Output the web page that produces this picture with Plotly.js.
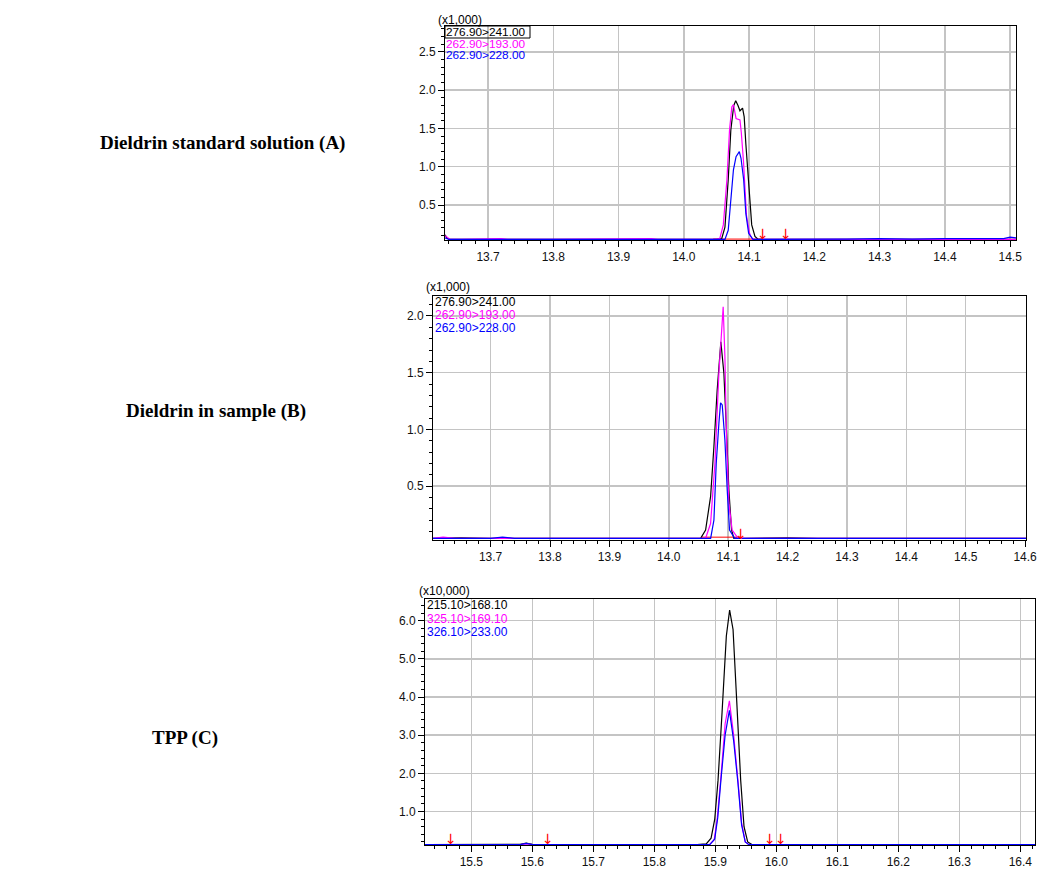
<!DOCTYPE html>
<html>
<head>
<meta charset="utf-8">
<script src="https://cdn.plot.ly/plotly-3.0.1.min.js"></script>
<style>
  html, body { margin: 0; padding: 0; background: #fff; }
  #chart { width: 1040px; height: 870px; }
</style>
</head>
<body>
<div id="chart"></div>
<script>
// ---------------- DATA ----------------
// Panel labels
const panelTitles = ["Dieldrin standard solution (A)", "Dieldrin in sample (B)", "TPP (C)"];
const scaleLabels = ["(x1,000)", "(x1,000)", "(x10,000)"];
const channelsAB = ["276.90>241.00", "262.90>193.00", "262.90>228.00"];
const channelsC = ["215.10>168.10", "325.10>169.10", "326.10>233.00"];

// Tick labels
const xTicksA = [13.7, 13.8, 13.9, 14.0, 14.1, 14.2, 14.3, 14.4, 14.5];
const xTicksB = [13.7, 13.8, 13.9, 14.0, 14.1, 14.2, 14.3, 14.4, 14.5, 14.6];
const xTicksC = [15.5, 15.6, 15.7, 15.8, 15.9, 16.0, 16.1, 16.2, 16.3, 16.4];
const yTicksAB = [0.5, 1.0, 1.5, 2.0, 2.5];
const yTicksC = [1.0, 2.0, 3.0, 4.0, 5.0, 6.0];

// Panel A (x1,000)
const tA_black = [13.634,13.637,13.641,13.66,13.70,13.75,13.80,13.85,13.90,13.95,14.00,14.03,14.050,14.058,14.063,14.068,14.072,14.0765,14.0795,14.083,14.086,14.090,14.0925,14.095,14.099,14.104,14.109,14.114,14.13,14.16,14.20,14.25,14.30,14.35,14.40,14.45,14.509];
const vA_black = [0.11,0.07,0.05,0.05,0.05,0.05,0.05,0.05,0.05,0.05,0.05,0.05,0.05,0.06,0.21,0.83,1.48,1.80,1.86,1.80,1.73,1.765,1.65,1.30,0.83,0.24,0.09,0.05,0.05,0.05,0.05,0.05,0.05,0.05,0.05,0.05,0.05];
const tA_mag = [13.634,13.638,13.642,13.66,13.72,13.73,13.80,13.95,13.96,14.00,14.048,14.055,14.0605,14.066,14.070,14.0735,14.076,14.080,14.086,14.088,14.0915,14.096,14.101,14.105,14.15,14.25,14.35,14.45,14.509];
const vA_mag = [0.10,0.07,0.05,0.05,0.06,0.05,0.05,0.06,0.05,0.05,0.05,0.06,0.24,0.83,1.48,1.78,1.81,1.63,1.61,1.45,1.06,0.36,0.12,0.05,0.05,0.05,0.05,0.05,0.05];
const tA_blue = [13.634,13.64,13.70,13.80,13.90,14.00,14.063,14.068,14.073,14.076,14.080,14.085,14.0876,14.0917,14.095,14.0993,14.106,14.15,14.20,14.25,14.30,14.35,14.40,14.45,14.49,14.50,14.509];
const vA_blue = [0.07,0.05,0.05,0.05,0.05,0.05,0.05,0.17,0.61,0.96,1.13,1.196,1.11,0.83,0.39,0.13,0.05,0.05,0.05,0.055,0.06,0.055,0.06,0.055,0.06,0.08,0.07];
const tA_redBase = [14.045, 14.122];
const vA_redBase = [0.055, 0.055];
const tA_arrows = [14.122, 14.157];

// Panel B (x1,000)
const tB_black = [13.603,13.65,13.70,13.75,13.80,13.85,13.90,13.95,14.00,14.04,14.0536,14.062,14.0704,14.076,14.0815,14.0877,14.0928,14.0966,14.1012,14.1057,14.1096,14.13,14.20,14.25,14.30,14.40,14.50,14.6015];
const vB_black = [0.04,0.045,0.04,0.04,0.04,0.045,0.04,0.04,0.04,0.04,0.04,0.113,0.407,0.847,1.347,1.773,1.495,1.054,0.466,0.113,0.04,0.04,0.045,0.04,0.04,0.04,0.04,0.04];
const tB_mag = [13.603,13.62,13.64,13.70,13.80,13.90,14.00,14.062,14.0704,14.0777,14.0844,14.0916,14.0945,14.0973,14.1012,14.1067,14.1168,14.20,14.30,14.40,14.50,14.6015];
const vB_mag = [0.04,0.05,0.04,0.04,0.04,0.04,0.04,0.04,0.17,0.70,1.495,2.08,1.64,0.906,0.35,0.113,0.04,0.04,0.04,0.04,0.04,0.04];
const tB_blue = [13.603,13.70,13.72,13.74,13.80,13.90,14.00,14.0705,14.076,14.0799,14.0844,14.0872,14.09,14.0945,14.0984,14.1023,14.111,14.20,14.30,14.40,14.50,14.6015];
const vB_blue = [0.04,0.04,0.05,0.04,0.04,0.04,0.04,0.04,0.20,0.70,1.054,1.235,1.215,0.906,0.466,0.113,0.04,0.04,0.04,0.04,0.04,0.04];
const tB_redBase = [14.055, 14.122];
const vB_redBase = [0.05, 0.05];
const tB_arrows = [14.121];

// Panel C (x10,000)
const tC_black = [15.424,15.45,15.50,15.55,15.58,15.59,15.60,15.62,15.70,15.80,15.87,15.885,15.893,15.899,15.9044,15.911,15.918,15.9234,15.929,15.935,15.9415,15.947,15.953,15.96,16.00,16.10,16.20,16.30,16.424];
const vC_black = [0.13,0.13,0.13,0.13,0.14,0.17,0.14,0.13,0.13,0.13,0.13,0.15,0.30,0.80,1.82,3.60,5.60,6.28,5.77,3.90,1.82,0.60,0.20,0.13,0.13,0.13,0.13,0.13,0.13];
const tC_mag = [15.424,15.50,15.58,15.59,15.60,15.70,15.80,15.89,15.898,15.903,15.9087,15.916,15.923,15.930,15.937,15.943,15.949,15.955,16.00,16.10,16.20,16.30,16.424];
const vC_mag = [0.13,0.13,0.13,0.15,0.13,0.13,0.13,0.13,0.25,0.80,1.82,3.30,3.90,3.00,1.82,0.70,0.20,0.13,0.13,0.13,0.13,0.13,0.13];
const tC_blue = [15.424,15.50,15.58,15.59,15.60,15.70,15.80,15.891,15.899,15.904,15.909,15.916,15.923,15.930,15.937,15.943,15.949,15.955,16.00,16.10,16.20,16.30,16.424];
const vC_blue = [0.13,0.13,0.13,0.16,0.13,0.13,0.13,0.13,0.28,0.85,1.80,3.00,3.65,2.85,1.75,0.65,0.20,0.13,0.13,0.13,0.13,0.13,0.13];
const tC_arrows = [15.4665, 15.625, 15.990, 16.007];

// ---------------- STYLE ----------------
const W = 1040, H = 870;
const px = x => x / W;
const py = y => 1 - y / H;
const BLACK = '#000000', MAG = '#ff00ff', BLUE = '#0000ff', RED = '#ff0000';

function line(x, y, color, xa, ya, width) {
  return { x: x, y: y, type: 'scatter', mode: 'lines', xaxis: xa, yaxis: ya,
           line: { color: color, width: width || 1.2 }, hoverinfo: 'skip' };
}
// red integration-marker arrows, drawn as text glyphs sitting on the axis
function arrowAnns(xs, xref, yref) {
  return xs.map(x => ({
    xref: xref, yref: yref + ' domain', x: x, y: 0, xanchor: 'center', yanchor: 'bottom',
    text: '↓', showarrow: false, yshift: -4,
    font: { family: 'DejaVu Sans', size: 14, color: RED }
  }));
}

const traces = [
  line(tA_redBase, vA_redBase, RED, 'x', 'y', 1),
  line(tA_black, vA_black, BLACK, 'x', 'y'),
  line(tA_mag, vA_mag, MAG, 'x', 'y'),
  line(tA_blue, vA_blue, BLUE, 'x', 'y'),

  line(tB_redBase, vB_redBase, RED, 'x2', 'y2', 1),
  line(tB_black, vB_black, BLACK, 'x2', 'y2'),
  line(tB_mag, vB_mag, MAG, 'x2', 'y2'),
  line(tB_blue, vB_blue, BLUE, 'x2', 'y2'),

  line(tC_black, vC_black, BLACK, 'x3', 'y3'),
  line(tC_mag, vC_mag, MAG, 'x3', 'y3'),
  line(tC_blue, vC_blue, BLUE, 'x3', 'y3')
];

const tickFont = { family: 'Liberation Sans, Arial, sans-serif', size: 12, color: '#111' };

function xAxis(domain, range, ticks, anchor) {
  return {
    domain: domain, range: range, anchor: anchor,
    tickmode: 'array', tickvals: ticks, ticktext: ticks.map(v => v.toFixed(1)),
    ticks: 'outside', ticklen: 6, tickwidth: 1, tickcolor: BLACK,
    showline: true, mirror: true, linecolor: BLACK, linewidth: 1,
    showgrid: true, gridcolor: '#c4c4c4', gridwidth: 1.5, zeroline: false,
    tickfont: tickFont, fixedrange: true,
    minor: { dtick: 0.02, tick0: 13.0, ticks: 'outside', ticklen: 3, tickcolor: BLACK, showgrid: false }
  };
}
function yAxis(domain, range, ticks, minorStep, anchor) {
  return {
    domain: domain, range: range, anchor: anchor,
    tickmode: 'array', tickvals: ticks, ticktext: ticks.map(v => v.toFixed(1)),
    ticks: 'outside', ticklen: 6, tickwidth: 1, tickcolor: BLACK,
    showline: true, mirror: true, linecolor: BLACK, linewidth: 1,
    showgrid: true, gridcolor: '#c4c4c4', gridwidth: 1.5, zeroline: false,
    tickfont: tickFont, fixedrange: true,
    minor: { dtick: minorStep, tick0: 0, ticks: 'outside', ticklen: 3, tickcolor: BLACK, showgrid: false }
  };
}

const legendFont = (c, s) => ({ family: 'Liberation Sans, Arial, sans-serif', size: s || 12, color: c });
function txt(x, y, text, color, size) {
  return { xref: 'paper', yref: 'paper', x: px(x), y: py(y), xanchor: 'left', yanchor: 'middle',
           text: text, showarrow: false, font: legendFont(color, size), borderpad: 0 };
}
const titleFont = { family: 'Liberation Serif, Times New Roman, serif', size: 19, color: '#000' };
function title(x, y, text) {
  return { xref: 'paper', yref: 'paper', x: px(x), y: py(y), xanchor: 'center', yanchor: 'middle',
           text: '<b>' + text + '</b>', showarrow: false, font: titleFont };
}

const annotations = [
  title(222, 143, panelTitles[0]),
  title(216, 411, panelTitles[1]),
  title(185, 738, panelTitles[2]),

  txt(437, 20, scaleLabels[0], BLACK),
  txt(445, 31.5, channelsAB[0], BLACK, 11.8),
  txt(445, 43.5, channelsAB[1], MAG, 11.8),
  txt(445, 55.5, channelsAB[2], BLUE, 11.8),

  txt(425, 287, scaleLabels[1], BLACK),
  txt(434, 302.5, channelsAB[0], BLACK),
  txt(434, 315, channelsAB[1], MAG),
  txt(434, 328, channelsAB[2], BLUE),

  txt(418, 591, scaleLabels[2], BLACK),
  txt(426, 605, channelsC[0], BLACK),
  txt(426, 619, channelsC[1], MAG),
  txt(426, 632, channelsC[2], BLUE)
].concat(arrowAnns(tA_arrows, 'x', 'y'))
 .concat(arrowAnns(tB_arrows, 'x2', 'y2'))
 .concat(arrowAnns(tC_arrows, 'x3', 'y3'));

const shapes = [
  { type: 'rect', xref: 'paper', yref: 'paper', x0: px(445), x1: px(530), y0: py(38), y1: py(26),
    line: { color: BLACK, width: 1 }, fillcolor: 'rgba(0,0,0,0)' }
];

const layout = {
  width: W, height: H,
  margin: { l: 0, r: 0, t: 0, b: 0 },
  paper_bgcolor: '#ffffff', plot_bgcolor: '#ffffff',
  showlegend: false,
  xaxis: xAxis([px(445), px(1016)], [13.634, 14.509], xTicksA, 'y'),
  yaxis: yAxis([py(240), py(26)], [0.043, 2.837], yTicksAB, 0.1, 'x'),
  xaxis2: xAxis([px(433), px(1026)], [13.603, 14.6015], xTicksB, 'y2'),
  yaxis2: yAxis([py(540), py(296)], [0.025, 2.176], yTicksAB.slice(0, 4), 0.1, 'x2'),
  xaxis3: xAxis([px(425), px(1035)], [15.424, 16.424], xTicksC, 'y3'),
  yaxis3: yAxis([py(845), py(599)], [0.12, 6.57], yTicksC, 0.2, 'x3'),
  annotations: annotations,
  shapes: shapes
};

Plotly.newPlot('chart', traces, layout, { staticPlot: true, displayModeBar: false });
</script>
</body>
</html>
